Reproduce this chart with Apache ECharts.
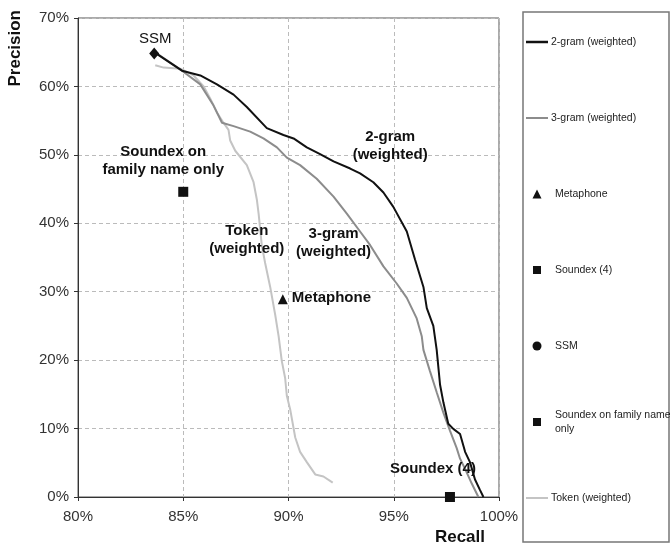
<!DOCTYPE html>
<html>
<head>
<meta charset="utf-8">
<script src="https://cdn.jsdelivr.net/npm/echarts@6/dist/echarts.min.js"></script>
<style>
  html, body { margin: 0; padding: 0; background: #fff; }
  #chart { width: 670px; height: 549px; }
</style>
</head>
<body>
<div id="chart"></div>
<script>
// ---- Data (recall %, precision %) ----
const twoGram = [
  [83.67,64.9],[84.94,62.3],[85.81,61.6],[86.6,60.3],[87.39,58.8],[88.02,57.0],
  [88.97,53.9],[89.76,52.9],[90.24,52.4],[90.87,51.1],[91.5,50.1],[92.14,49.05],
  [92.93,48.0],[93.4,47.3],[94.03,46.0],[94.51,44.5],[94.98,42.4],[95.62,38.8],
  [96.01,34.7],[96.41,30.7],[96.57,27.6],[96.88,25.0],[97.04,21.5],[97.2,16.4],
  [97.36,13.8],[97.59,10.7],[97.83,9.96],[98.15,9.2],[98.39,6.6],[98.62,5.1],
  [98.86,2.55],[99.1,1.0],[99.26,0]
];
const threeGram = [
  [83.75,64.8],[84.94,62.3],[85.81,60.3],[86.44,57.2],[86.84,54.7],[87.39,54.2],
  [88.18,53.4],[88.81,52.4],[89.45,51.1],[89.92,49.6],[90.55,48.5],[91.34,46.5],
  [92.14,43.9],[92.77,41.4],[93.4,38.8],[93.88,36.8],[94.51,33.7],[95.14,31.2],
  [95.62,29.1],[96.09,26.1],[96.33,23.5],[96.41,21.5],[96.72,18.4],[97.04,15.3],
  [97.36,12.3],[97.67,9.7],[97.99,7.15],[98.15,5.6],[98.39,4.1],[98.7,2.0],[99.02,0]
];
const token = [
  [83.67,63.1],[84.07,62.75],[84.86,62.6],[85.49,61.6],[85.97,60.0],[86.28,58.25],
  [86.6,56.2],[86.91,54.7],[87.15,53.65],[87.23,52.1],[87.47,50.6],[88.02,48.5],
  [88.34,46.0],[88.5,43.4],[88.58,41.4],[88.73,36.8],[88.89,34.2],[89.13,30.7],
  [89.37,26.6],[89.53,23.5],[89.68,19.9],[89.84,17.4],[89.92,14.8],[90.08,12.8],
  [90.32,8.7],[90.55,6.6],[90.87,5.1],[91.27,3.3],[91.66,3.0],[92.1,2.1]
];
const ssm = [[83.62,64.8]];
const metaphone = [[89.73,28.9]];
const soundex4 = [[97.67,0]];
const soundexFamily = [[85.0,44.6]];

// annotation anchors (data coords)
const twoGramLabelAt = [94.83,51.35];
const threeGramLabelAt = [92.14,37.1];
const tokenLabelAt = [88.02,37.6];

const FONT = '"Liberation Sans", Arial, Helvetica, sans-serif';
const annoLabel = {
  show: true, fontFamily: FONT, fontSize: 15, fontWeight: 'bold',
  color: '#111', lineHeight: 18
};

function anno(coord, text) {
  return {
    symbol: 'circle', symbolSize: 1, silent: true,
    itemStyle: { color: 'rgba(0,0,0,0)' },
    label: Object.assign({ position: 'inside', formatter: text }, annoLabel),
    data: [{ coord: coord }]
  };
}

const legendRows = [42, 118, 194, 270, 346, 422, 498];
function lineLegend(name, row, color, w) {
  return {
    data: [{ name: name, icon: 'rect', itemStyle: { color: color } }],
    orient: 'vertical', left: 526, top: row - 6.5, padding: 0,
    itemWidth: 22, itemHeight: w, selectedMode: false,
    textStyle: { fontFamily: FONT, fontSize: 10.5, color: '#222', lineHeight: 13, padding: [0,0,0,-2] }
  };
}
function markLegend(name, icon, size, row, twoLine) {
  const lh = 14;
  return {
    data: [{ name: name, icon: icon, itemStyle: { color: '#111', opacity: 1 } }], orient: 'vertical',
    left: 537 - size / 2, top: twoLine ? row - lh * 1.5 : row - 6.5, padding: 0,
    itemWidth: size, itemHeight: size, selectedMode: false,
    formatter: twoLine ? 'Soundex on family name\nonly' : '{name}',
    textStyle: { fontFamily: FONT, fontSize: 10.5, color: '#222',
      lineHeight: twoLine ? lh : 13,
      padding: twoLine ? [lh, 0, 0, 13 - size / 2] : [0, 0, 0, 13 - size / 2] }
  };
}

const chart = echarts.init(document.getElementById('chart'), null, { renderer: 'canvas' });
chart.setOption({
  animation: false,
  backgroundColor: '#fff',
  grid: { left: 78, right: 171, top: 18, bottom: 52, show: true,
    borderColor: '#555', borderWidth: 1, outerBoundsMode: 'none' },
  xAxis: {
    type: 'value', min: 80, max: 100, interval: 5,
    name: 'Recall', nameLocation: 'end', nameGap: -14,
    nameTextStyle: { fontFamily: FONT, fontSize: 17, fontWeight: 'bold', color: '#111',
      align: 'right', verticalAlign: 'top', padding: [32, 0, 0, 0] },
    axisLine: { show: true, lineStyle: { color: '#333', width: 1 } },
    axisTick: { show: true, length: 4, lineStyle: { color: '#333' } },
    axisLabel: { formatter: '{value}%', fontFamily: FONT, fontSize: 15, color: '#333', margin: 12 },
    splitLine: { show: true, lineStyle: { color: '#bbb', type: [4, 3], width: 1 } }
  },
  yAxis: {
    type: 'value', min: 0, max: 70, interval: 10,
    name: 'Precision', nameLocation: 'end', nameRotate: 90, nameGap: 8,
    nameTextStyle: { fontFamily: FONT, fontSize: 17, fontWeight: 'bold', color: '#111',
      align: 'right', verticalAlign: 'bottom', padding: [0, 0, 54, 0] },
    axisLine: { show: true, lineStyle: { color: '#333', width: 1 } },
    axisTick: { show: true, length: 4, lineStyle: { color: '#333' } },
    axisLabel: { formatter: '{value}%', fontFamily: FONT, fontSize: 15, color: '#333', margin: 9 },
    splitLine: { show: true, lineStyle: { color: '#bbb', type: [4, 3], width: 1 } }
  },
  legend: [
    lineLegend('2-gram (weighted)', legendRows[0], '#111', 2.5),
    lineLegend('3-gram (weighted)', legendRows[1], '#8c8c8c', 2),
    markLegend('Metaphone', 'triangle', 9, legendRows[2], false),
    markLegend('Soundex (4)', 'rect', 8, legendRows[3], false),
    markLegend('SSM', 'circle', 9, legendRows[4], false),
    markLegend('Soundex on family name only', 'rect', 8, legendRows[5], true),
    lineLegend('Token (weighted)', legendRows[6], '#c4c4c4', 2)
  ],
  graphic: [{
    type: 'rect', shape: { x: 523, y: 12, width: 146, height: 530 },
    style: { fill: 'none', stroke: '#777', lineWidth: 1.5 }, silent: true
  }],
  series: [
    { name: 'Token (weighted)', type: 'line', data: token, symbol: 'none',
      lineStyle: { color: '#c4c4c4', width: 2 }, itemStyle: { color: '#c4c4c4' }, z: 2,
      markPoint: anno(tokenLabelAt, 'Token\n(weighted)') },
    { name: '3-gram (weighted)', type: 'line', data: threeGram, symbol: 'none',
      lineStyle: { color: '#8c8c8c', width: 2 }, itemStyle: { color: '#8c8c8c' }, z: 3,
      markPoint: anno(threeGramLabelAt, '3-gram\n(weighted)') },
    { name: '2-gram (weighted)', type: 'line', data: twoGram, symbol: 'none',
      lineStyle: { color: '#111', width: 2 }, itemStyle: { color: '#111' }, z: 4,
      markPoint: anno(twoGramLabelAt, '2-gram\n(weighted)') },
    { name: 'Metaphone', type: 'scatter', data: metaphone, symbol: 'triangle', symbolSize: 10,
      itemStyle: { color: '#111', opacity: 1 }, z: 5,
      label: Object.assign({}, annoLabel, { position: 'right', distance: 4, offset: [0, -1], formatter: 'Metaphone' }) },
    { name: 'Soundex (4)', type: 'scatter', data: soundex4, symbol: 'rect', symbolSize: 10,
      itemStyle: { color: '#111', opacity: 1 }, z: 5,
      label: Object.assign({}, annoLabel, { position: 'inside', offset: [-17, -28], formatter: 'Soundex (4)' }) },
    { name: 'SSM', type: 'scatter', data: ssm, symbol: 'diamond', symbolSize: [10, 12],
      itemStyle: { color: '#111', opacity: 1 }, z: 6,
      label: Object.assign({}, annoLabel, { position: 'inside', offset: [1, -15], fontWeight: 'normal', formatter: 'SSM' }) },
    { name: 'Soundex on family name only', type: 'scatter', data: soundexFamily, symbol: 'rect', symbolSize: 10,
      itemStyle: { color: '#111', opacity: 1 }, z: 5,
      label: Object.assign({}, annoLabel, { position: 'inside', offset: [-20, -31], formatter: 'Soundex on\nfamily name only' }) }
  ]
});
</script>
</body>
</html>
